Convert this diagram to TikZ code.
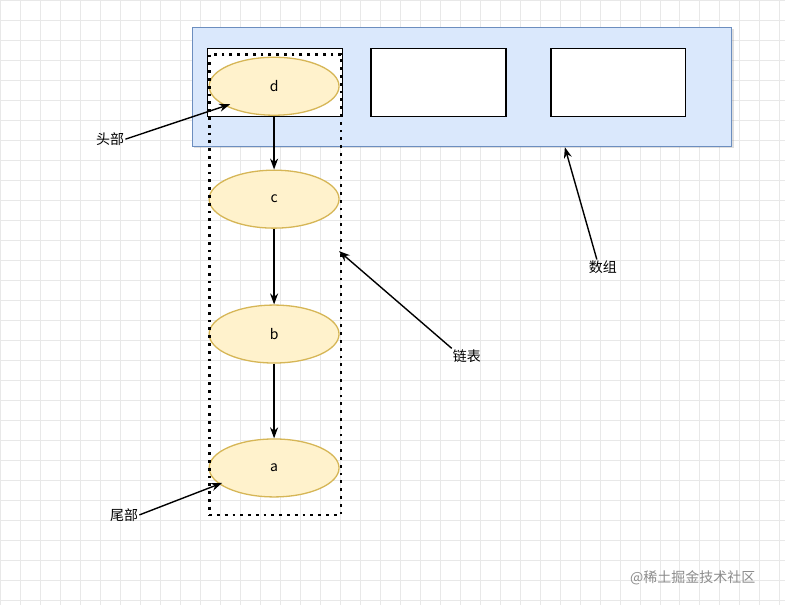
\documentclass[tikz,border=0pt]{standalone}
\usepackage{fontspec}
\setmainfont{Noto Sans CJK SC}
\usetikzlibrary{arrows.meta,shadows,shapes.geometric}
\definecolor{bluefill}{HTML}{DAE8FC}
\definecolor{bluedraw}{HTML}{6C8EBF}
\definecolor{yfill}{HTML}{FFF2CC}
\definecolor{ydraw}{HTML}{D6B656}
\tikzset{
 x=1pt,y=-1pt,
 ell/.style={ellipse,draw=ydraw,line width=1.3pt,fill=yfill,minimum width=130pt,minimum height=58pt,inner sep=0pt,font=\fontsize{14}{16}\selectfont},
 box/.style={draw=black,line width=1.3pt,fill=white,minimum width=135pt,minimum height=68pt,inner sep=0pt},
 lab/.style={font=\fontsize{14}{16}\selectfont,inner sep=1pt},
 arr/.style={-{Stealth[length=11pt,width=8pt]},line width=1.4pt},
}
\begin{document}
\begin{tikzpicture}
\fill[white] (0,0) rectangle (785,605);
\foreach \i in {0,20,...,780} \draw[black!9,line width=0.6pt] (\i,0) -- (\i,605);
\foreach \i in {0,20,...,600} \draw[black!9,line width=0.6pt] (0,\i) -- (785,\i);
\useasboundingbox (0,0) rectangle (785,605);
\node[draw=bluedraw,line width=1.3pt,fill=bluefill,minimum width=540pt,minimum height=119pt,inner sep=0pt,drop shadow={opacity=0.25,shadow xshift=2pt,shadow yshift=-2pt}] (arr) at (462,86.5) {};
\node[box] (b1) at (275,82) {};
\node[box] (b2) at (438.5,82) {};
\node[box] (b3) at (618.5,82) {};
\node[ell] (d) at (274,86) {d};
\node[ell] (c) at (274,199) {c};
\node[ell] (b) at (274,334) {b};
\node[ell] (a) at (274,468) {a};
\node[draw,line width=2.8pt,dash pattern=on 2.8pt off 5pt,minimum width=132pt,minimum height=461pt,inner sep=0pt] (list) at (275,284.5) {};
\draw[arr] (d) -- (c);
\draw[arr] (c) -- (b);
\draw[arr] (b) -- (a);
\node[lab] (head) at (110,139) {头部};
\node[lab] (tail) at (124,515) {尾部};
\node[lab] (ll) at (467,356) {链表};
\node[lab] (ar) at (603,267) {数组};
\coordinate (hT) at (230,104);
\coordinate (tT) at (222,483);
\coordinate (lT) at (339,251);
\coordinate (aT) at (565,147);
\draw[arr] (head.east) -- (hT);
\draw[arr] (tail.east) -- (tT);
\draw[arr] (ll.north west) -- (lT);
\draw[arr] (ar.north) ++(-6,0) -- (aT);
\node[lab,text=black!45,font=\fontsize{14}{16}\selectfont] (wm) at (693,578) {@稀土掘金技术社区};
\end{tikzpicture}
\end{document}
